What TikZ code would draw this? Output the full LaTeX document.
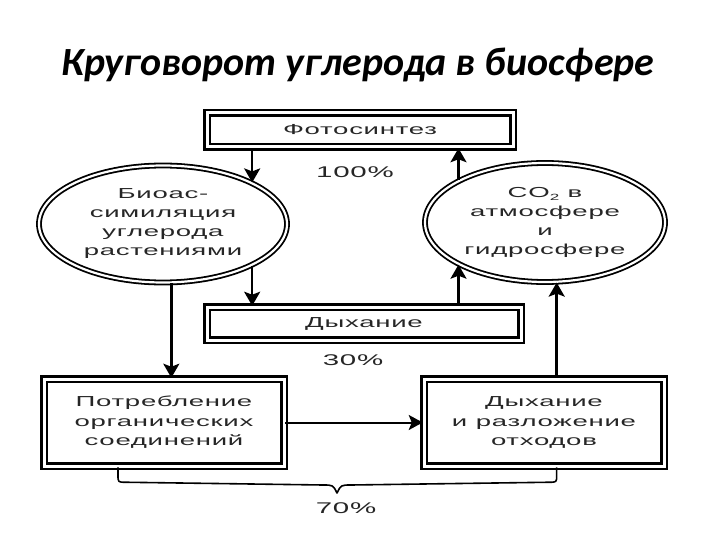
\documentclass[tikz,border=0pt]{standalone}
\usepackage{fontspec}
\setmainfont{Liberation Sans}
\newfontfamily\titlefont{Carlito}
\newfontfamily\lbl[FakeStretch=1.9,LetterSpace=5]{Liberation Sans}
\usetikzlibrary{shapes.geometric,arrows.meta,calc}
\tikzset{
  dbox/.style={draw=black, line width=2.5pt, double=white, double distance=3pt, rectangle, inner sep=0pt, align=center, text=black!85, font=\lbl\fontsize{14.5}{19.5}\selectfont},
  dell/.style={draw=black, line width=1.8pt, double=white, double distance=2.2pt, ellipse, inner sep=0pt, align=center, text=black!85, font=\lbl\fontsize{14.5}{19}\selectfont},
  arr/.style={line width=2.4pt, -{Stealth[length=14pt,width=16pt,inset=3pt]}},
  pct/.style={text=black!85, font=\lbl\fontsize{15.5}{15.5}\selectfont, inner sep=0pt},
  bracestyle/.style={line width=1.6pt, line join=round}
}
\begin{document}
\begin{tikzpicture}[x=1pt,y=-1pt]
\useasboundingbox (0,0) rectangle (720,540);
\node[font=\titlefont\bfseries\itshape\fontsize{40}{40}\selectfont, inner sep=0pt] (title) at (358,65) {Круговорот углерода в биосфере};

\node[dbox, minimum width=306pt, minimum height=34pt] (foto) at (360,130) {Фотосинтез};
\node[dbox, minimum width=314pt, minimum height=33pt] (resp) at (364,323.5) {Дыхание};
\node[dbox, minimum width=240pt, minimum height=87pt] (potr) at (164,422.5) {Потребление\\органических\\соединений};
\node[dbox, minimum width=240pt, minimum height=87pt] (razl) at (544,422.5) {Дыхание\\и разложение\\отходов};

\node[dell, minimum width=248pt, minimum height=117pt] (bio) at (163,224) {Биоас-\\симиляция\\углерода\\растениями};
\node[dell, minimum width=240pt, minimum height=119pt] (co2) at (545,222.5) {CO\raisebox{-0.35ex}{\fontsize{9}{9}\selectfont 2} в\\атмосфере\\и\\гидросфере};

\node[pct] (p100) at (355,172) {100\%};
\node[pct] (p30) at (353,360) {30\%};
\node[pct] (p70) at (346,508) {70\%};

\draw[arr] (foto.south -| bio.25) -- (bio.25);
\draw[arr] (bio.-25) -- (bio.-25 |- resp.north);
\draw[arr] (bio.-82) -- (bio.-82 |- potr.north);
\draw[arr] (resp.north -| co2.206) -- (co2.206);
\draw[arr] (co2.154) -- (co2.154 |- foto.south);
\draw[arr] (razl.north -| co2.-79) -- (co2.-79);
\draw[line width=2pt, -{Stealth[length=14pt,width=15pt,inset=3pt]}] (potr.east) -- (razl.west);

\coordinate (bL) at ($(potr.south)+(-46,0)$);
\coordinate (bR) at (razl.south -| co2.-79);
\coordinate (bM) at (337,493);
\draw[bracestyle] (bL) -- ($(bL)+(0,8)$) .. controls ($(bL)+(0,15)$) .. ($(bL)+(8,15)$)
  -- ($(bM)+(-14,-8)$) .. controls ($(bM)+(-4,-8)$) .. (bM)
  .. controls ($(bM)+(4,-8)$) .. ($(bM)+(14,-8)$)
  -- ($(bR)+(-8,15)$) .. controls ($(bR)+(0,15)$) .. ($(bR)+(0,8)$) -- (bR);
\end{tikzpicture}
\end{document}
